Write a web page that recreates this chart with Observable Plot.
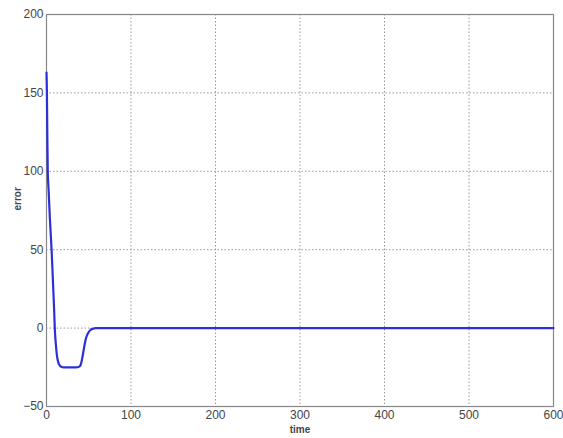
<!DOCTYPE html>
<html>
<head>
<meta charset="utf-8">
<script src="https://cdn.jsdelivr.net/npm/d3@7"></script>
<script src="https://cdn.jsdelivr.net/npm/@observablehq/plot@0.6"></script>
<style>
  html, body { margin: 0; padding: 0; background: #fff; }
  #chart svg { display: block; font-family: "Liberation Sans Narrow", "Liberation Sans", "DejaVu Sans Condensed", sans-serif; }
</style>
</head>
<body>
<div id="chart"></div>
<script>
const timeValues  = [0, 0.5, 1, 1.5, 2.5, 4, 5, 6, 7, 8, 9, 9.8, 11, 12.5, 14, 16, 18, 20, 25, 30, 35, 38, 40, 42, 44, 46, 48, 50, 52, 55, 58, 62, 600];
const errorValues = [163, 150, 122, 100, 88, 70, 60, 50, 38, 25, 12, 0, -10, -18, -22, -24, -24.8, -25, -25, -25, -25, -24.8, -24, -20, -14, -8, -4.5, -2.5, -1.2, -0.4, 0, 0, 0];
const xTicks = [0, 100, 200, 300, 400, 500, 600];
const yTicks = [-50, 0, 50, 100, 150, 200];
const xLabel = ["time"];
const yLabel = ["error"];

const data = timeValues.map((t, i) => ({t, e: errorValues[i]}));

const chart = Plot.plot({
  width: 563,
  height: 438,
  marginTop: 14,
  marginBottom: 32,
  marginLeft: 46,
  marginRight: 10,
  style: {fontSize: "12px", color: "#333", background: "#fff"},
  x: {domain: [0, 600]},
  y: {domain: [-50, 200]},
  marks: [
    Plot.gridX(xTicks.slice(1, -1), {stroke: "#999", strokeOpacity: 1, strokeDasharray: "1.5,2"}),
    Plot.gridY(yTicks.slice(1, -1), {stroke: "#999", strokeOpacity: 1, strokeDasharray: "1.5,2"}),
    Plot.frame({stroke: "#888", strokeWidth: 1.2}),
    Plot.line(data, {x: "t", y: "e", stroke: "#2f2fd8", strokeWidth: 2.2, curve: "monotone-x"}),
    Plot.axisX(xTicks, {tickSize: 0, tickPadding: 4, label: null, fill: "#444"}),
    Plot.axisY(yTicks, {tickSize: 0, tickPadding: 3, label: null, fill: "#444"}),
    Plot.text(xLabel, {text: d => d, frameAnchor: "bottom", dy: 26, fontSize: 10, fontWeight: "bold", fill: "#444"}),
    Plot.text(yLabel, {text: d => d, frameAnchor: "left", dx: -29, rotate: -90, fontSize: 10, fontWeight: "bold", fill: "#444"})
  ]
});
document.getElementById("chart").append(chart);
</script>
</body>
</html>
